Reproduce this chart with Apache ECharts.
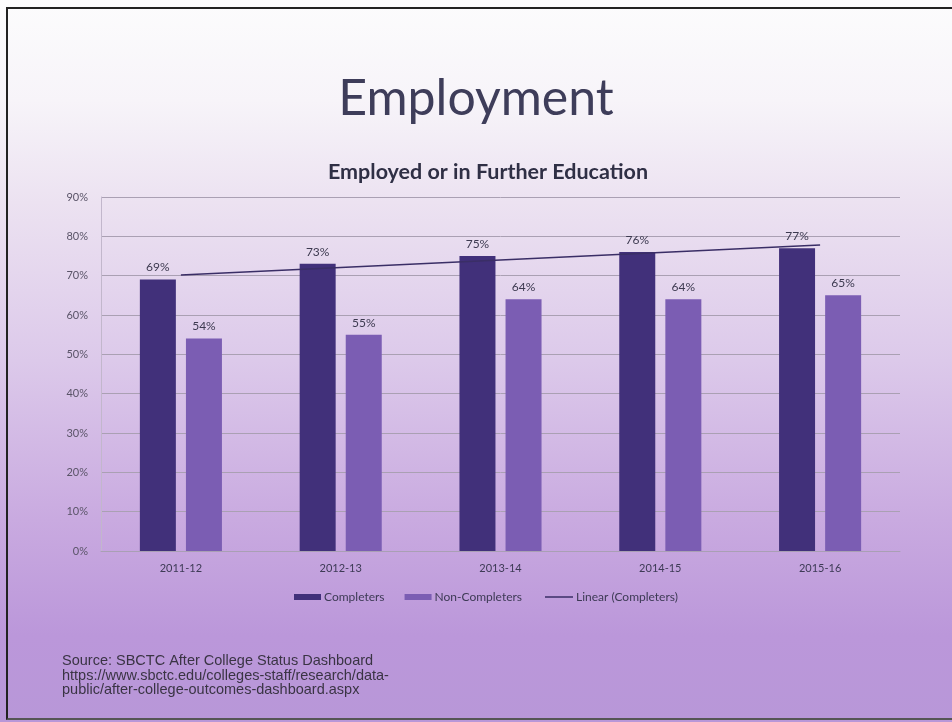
<!DOCTYPE html>
<html>
<head>
<meta charset="utf-8">
<script src="https://cdn.jsdelivr.net/npm/echarts@6/dist/echarts.min.js"></script>
<style>
  html, body { margin: 0; padding: 0; }
  body {
    width: 952px; height: 722px; overflow: hidden; position: relative;
    background: linear-gradient(to bottom, #fcfcfd 0%, #f7f4f9 14%, #ece2f1 28%, #dcc9ea 50%, #c9aae0 72%, #bb97da 88%, #b897d8 100%);
  }
  #frame {
    position: absolute; left: 6px; top: 7px; width: 960px; height: 713px;
    border-top: 2px solid #222; border-left: 2px solid #222; border-bottom: 2px solid #555;
    box-sizing: border-box;
  }
  #chart { position: absolute; left: 0; top: 0; width: 952px; height: 722px; }
</style>
</head>
<body>
<div id="frame"></div>
<div id="chart"></div>
<script>
// Share employed or in further education, by academic year
const years = ['2011-12', '2012-13', '2013-14', '2014-15', '2015-16'];
const completers = [69, 73, 75, 76, 77];
const nonCompleters = [54, 55, 64, 64, 65];
const yTicks = { min: 0, max: 90, step: 10 };

// Least-squares linear trend through the completers series
function linearTrend(vals) {
  const n = vals.length;
  const xs = vals.map((_, i) => i + 1);
  const mx = xs.reduce((a, b) => a + b, 0) / n;
  const my = vals.reduce((a, b) => a + b, 0) / n;
  let sxy = 0, sxx = 0;
  xs.forEach((x, i) => { sxy += (x - mx) * (vals[i] - my); sxx += (x - mx) * (x - mx); });
  const slope = sxy / sxx;
  return xs.map(x => my + slope * (x - mx));
}
const trend = linearTrend(completers);

const chart = echarts.init(document.getElementById('chart'));
const baseFont = 'Lato, "Open Sans", sans-serif';
const darkBar = '#41307a';
const lightBar = '#7b5db3';
const trendColor = '#3a2e66';

chart.setOption({
  backgroundColor: 'transparent',
  animation: false,
  textStyle: { fontFamily: baseFont },
  title: [
    {
      text: 'Employment', left: 476, textAlign: 'center', top: 74, padding: 0,
      textStyle: { fontFamily: baseFont, fontSize: 50, fontWeight: 'normal', color: '#3e3d5a' }
    },
    {
      text: 'Employed or in Further Education', left: 488, textAlign: 'center', top: 161, padding: 0,
      textStyle: { fontFamily: baseFont, fontSize: 21.5, fontWeight: 'bold', color: '#2f2f45' }
    },
    {
      text: 'Source: SBCTC After College Status Dashboard\nhttps://www.sbctc.edu/colleges-staff/research/data-\npublic/after-college-outcomes-dashboard.aspx',
      left: 62, top: 654, padding: 0,
      textStyle: { fontFamily: '"Liberation Sans", Arial, sans-serif', fontSize: 14.5, fontWeight: 'normal', color: '#3a3444', lineHeight: 14.5 }
    }
  ],
  grid: { left: 101, right: 52, top: 197, bottom: 171, containLabel: false },
  legend: [
    {
      top: 591, left: 294, padding: 0,
      itemGap: 20, itemWidth: 27, itemHeight: 6,
      textStyle: { fontSize: 12, color: '#3d3a55', fontFamily: baseFont, padding: [0, 0, 0, -2] },
      data: [
        { name: 'Completers', icon: 'rect' },
        { name: 'Non-Completers', icon: 'rect' }
      ]
    },
    {
      top: 591, left: 545, padding: 0,
      itemWidth: 28, itemHeight: 1.5,
      textStyle: { fontSize: 12, color: '#3d3a55', fontFamily: baseFont, padding: [0, 0, 0, -2] },
      data: [{ name: 'Linear (Completers)', icon: 'rect' }]
    }
  ],
  xAxis: {
    type: 'category',
    data: years,
    axisTick: { show: false },
    axisLine: { show: true, lineStyle: { color: '#a99fb4', width: 1 } },
    axisLabel: { fontSize: 11, color: '#3d3a55', margin: 12 }
  },
  yAxis: {
    type: 'value',
    min: yTicks.min, max: yTicks.max, interval: yTicks.step,
    axisLine: { show: true, lineStyle: { color: '#c2b7cc', width: 1 } },
    axisTick: { show: false },
    splitLine: { lineStyle: { color: '#aaa0b3', width: 1 } },
    axisLabel: { formatter: '{value}%', fontSize: 11, color: '#5a5468', margin: 13 }
  },
  series: [
    {
      name: 'Completers', type: 'bar', data: completers,
      barWidth: 36, barGap: '28%',
      itemStyle: { color: darkBar },
      label: { show: true, position: 'top', distance: 6, formatter: '{c}%', fontSize: 12, color: '#3d3a50' }
    },
    {
      name: 'Non-Completers', type: 'bar', data: nonCompleters,
      barWidth: 36,
      itemStyle: { color: lightBar },
      label: { show: true, position: 'top', distance: 6, formatter: '{c}%', fontSize: 12, color: '#3d3a50' }
    },
    {
      name: 'Linear (Completers)', type: 'line', data: trend,
      symbol: 'none', z: 5,
      lineStyle: { color: trendColor, width: 1.5 },
      itemStyle: { color: trendColor }
    }
  ]
});
</script>
</body>
</html>
